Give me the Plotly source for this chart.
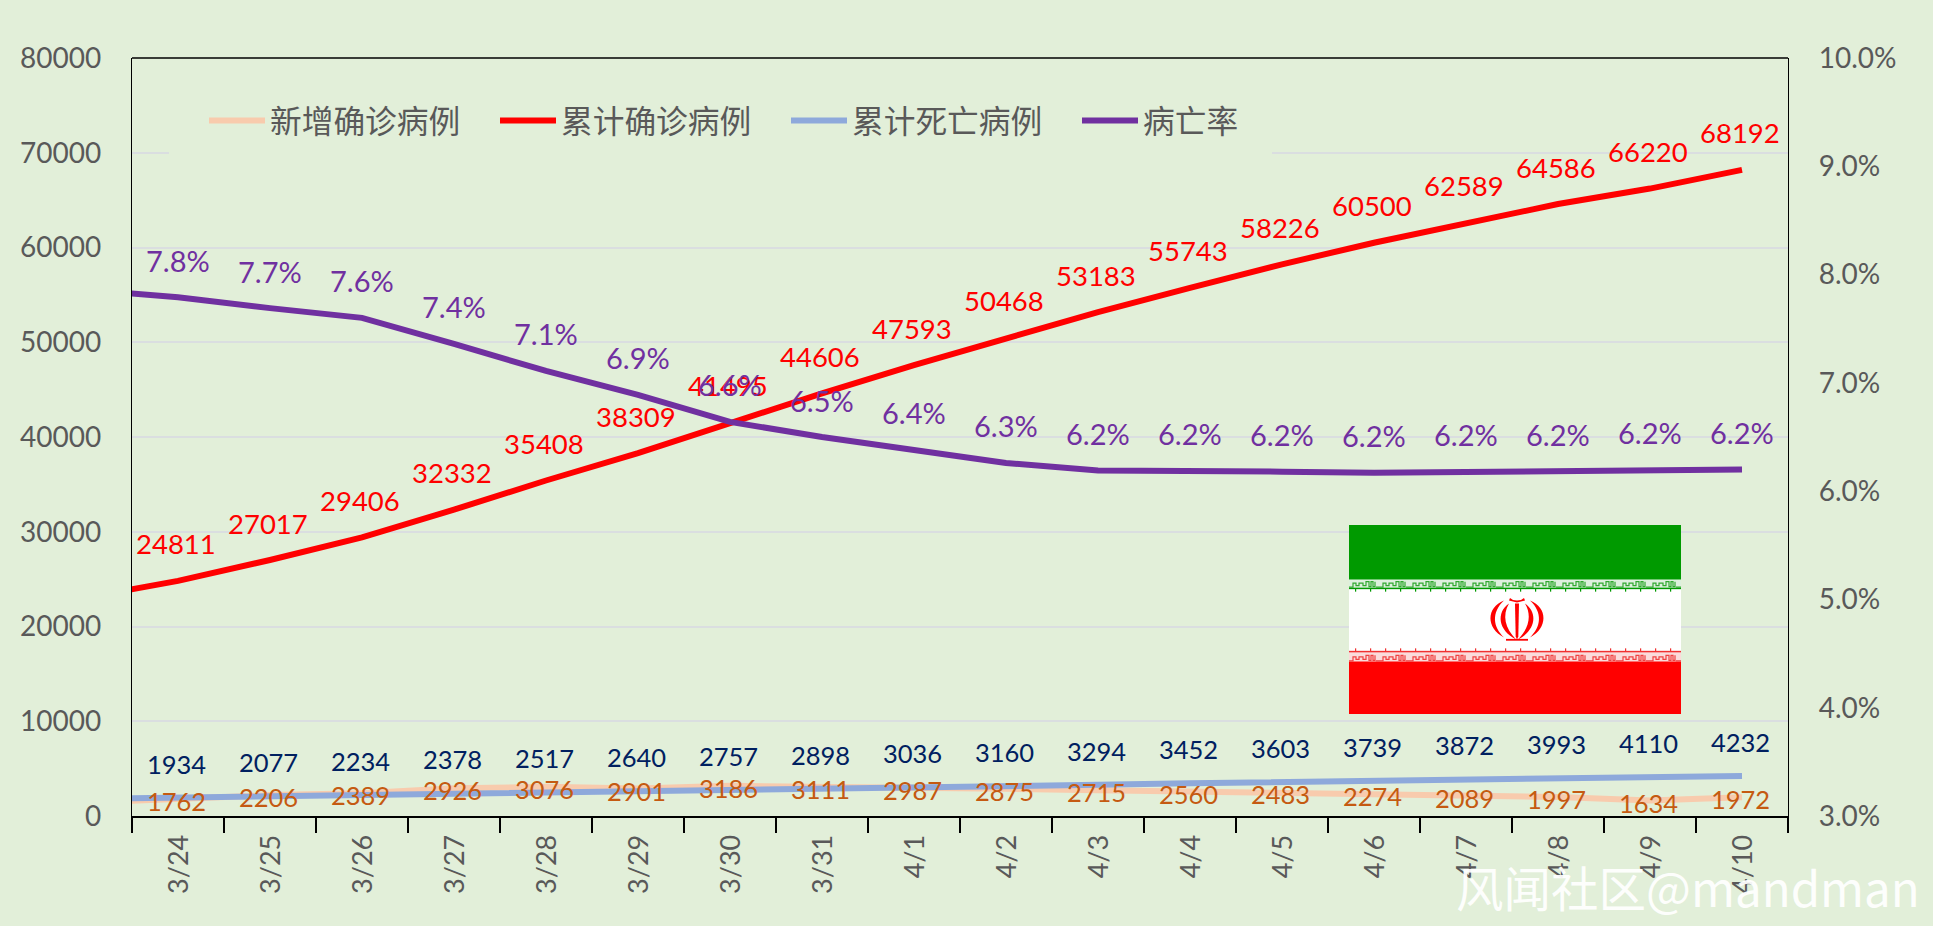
import base64
import plotly.graph_objects as go

# 3/23 sits just outside the visible range: the lines enter from the left axis
days = ["3/23", "3/24", "3/25", "3/26", "3/27", "3/28", "3/29", "3/30", "3/31", "4/1", "4/2",
        "4/3", "4/4", "4/5", "4/6", "4/7", "4/8", "4/9", "4/10"]
new_cases = [1411, 1762, 2206, 2389, 2926, 3076, 2901, 3186, 3111, 2987, 2875, 2715, 2560, 2483,
             2274, 2089, 1997, 1634, 1972]
total_cases = [23049, 24811, 27017, 29406, 32332, 35408, 38309, 41495, 44606, 47593, 50468, 53183,
               55743, 58226, 60500, 62589, 64586, 66220, 68192]
total_deaths = [1812, 1934, 2077, 2234, 2378, 2517, 2640, 2757, 2898, 3036, 3160, 3294, 3452, 3603,
                3739, 3872, 3993, 4110, 4232]
death_rate = [0.0786, 0.0779, 0.0769, 0.0760, 0.0736, 0.0711, 0.0689, 0.0664, 0.0650, 0.0638, 0.0626,
              0.0619, 0.0619, 0.0618, 0.0617, 0.0618, 0.0618, 0.0620, 0.0620]

BG = "#E2EFD9"
GREY = "#595959"
W, H = 1933, 926
L, R, T, B = 132, 1788, 58, 816


def frx(px):
    return (px - L) / (R - L)


def fry(px):
    return 1 - (px - T) / (B - T)


# flag of Iran drawn as a small SVG picture
tile = "M{0} 7.5H{1}V3.5H{2}V6H{3}V3.5H{4}V6H{5}V2H{6}V7H{7}V2H{8}V7H{9}V2"
def band(y0, col):
    s = ""
    for i in range(12):
        o = i * 30 - 3
        s += tile.format(o, o + 7, o + 10, o + 13, o + 17, o + 20, o + 23, o + 25, o + 27, o + 29)
    return f'<g transform="translate(0 {y0})"><path d="{s}" fill="none" stroke="{col}" stroke-width="1.2"/></g>'


ticks_g = "".join(f'<rect x="{i * 15 + 6}" y="64" width="1.2" height="3" fill="#009A00"/>' for i in range(23))
ticks_r = "".join(f'<rect x="{i * 15 + 6}" y="124" width="1.2" height="3" fill="#F03030"/>' for i in range(23))
emblem = (
    '<g fill="#FF0000">'
    '<path d="M166 79H170L169.3 112L168 115L166.700 112Z"/>'
    '<path d="M160 76L168 78L176 76L175 73.500L172 75.500L168 76L164 75.500L161 73.500Z"/>'
    '<path d="M160 79C147 88 149 106 167 115C156 104 153 91 160 79Z"/>'
    '<path d="M176 79C189 88 187 106 169 115C180 104 183 91 176 79Z"/>'
    '<path d="M155 76C137 83 137 104 155 113C144 103 142 88 155 76Z"/>'
    '<path d="M181 76C199 83 199 104 181 113C192 103 194 88 181 76Z"/>'
    '<rect x="157" y="114.500" width="22" height="1.800"/>'
    '</g>'
)
svg = (
    '<svg xmlns="http://www.w3.org/2000/svg" width="332" height="190" viewBox="0 0 332 190">'
    '<rect width="332" height="190" fill="#FFFFFF"/>'
    '<rect width="332" height="55" fill="#009A00"/>'
    '<rect y="137" width="332" height="53" fill="#FF0000"/>'
    '<rect y="55" width="332" height="9" fill="#DDF0DD"/>'
    '<rect y="127" width="332" height="10" fill="#FBDADA"/>'
    '<rect y="63" width="332" height="1.500" fill="#009A00"/>'
    '<rect y="126.500" width="332" height="1.500" fill="#F03030"/>'
    + band(55, "#2FA82F") + band(129, "#F04040") + ticks_g + ticks_r + emblem +
    '</svg>'
)
flag_uri = "data:image/svg+xml;base64," + base64.b64encode(svg.encode()).decode()

fig = go.Figure()
series = [
    ("新增确诊病例", new_cases, "#F8CBAD", "y"),
    ("累计确诊病例", total_cases, "#FF0000", "y"),
    ("累计死亡病例", total_deaths, "#8EA9DB", "y"),
    ("病亡率", death_rate, "#7030A0", "y2"),
]
for name, vals, col, ax in series:
    fig.add_trace(go.Scatter(x=days, y=vals, name=name, mode="lines", yaxis=ax, hoverinfo="skip",
                             line=dict(color=col, width=6, shape="linear")))

annotations = []
font_name = "Lato, 'Noto Sans CJK SC'"
def add_labels(vals, texts, col, shift, yref, size, xshift):
    for d, v, t in zip(days[1:], vals[1:], texts[1:]):
        annotations.append(dict(x=d, y=v, xref="x", yref=yref, text=t, showarrow=False, yshift=shift, xshift=xshift,
                                font=dict(color=col, size=size, family=font_name)))


add_labels(new_cases, [str(v) for v in new_cases], "#C55A11", -2, "y", 25.5, -2)
add_labels(total_cases, [str(v) for v in total_cases], "#FF0000", 37, "y", 27.5, -2)
add_labels(total_deaths, [str(v) for v in total_deaths], "#002060", 34, "y", 25.5, -2)
add_labels(death_rate, [f"{v * 100:.1f}%" for v in death_rate], "#7030A0", 37, "y2", 29, 0)

annotations.append(dict(x=frx(1922), y=fry(886), xref="paper", yref="paper", text="风闻社区@mandman",
                        showarrow=False, xanchor="right", yanchor="middle",
                        font=dict(color="rgba(255,255,255,0.95)", size=47.5, family="'Noto Sans CJK SC'")))

fig.update_layout(
    width=W, height=H, autosize=False,
    margin=dict(l=L, r=W - R, t=T, b=H - B, pad=0),
    paper_bgcolor=BG, plot_bgcolor=BG,
    font=dict(family=font_name, color=GREY),
    xaxis=dict(type="category", categoryorder="array", categoryarray=days, range=[0.5, 18.5],
               tickson="boundaries", ticks="outside", ticklen=15, tickwidth=1.6, tickcolor="#000000",
               showline=True, linecolor="#000000", linewidth=2, showgrid=False,
               tickangle=-90, tickfont=dict(size=27, color=GREY, family=font_name),
               ticklabelstandoff=6, ticklabelshift=1),
    yaxis=dict(range=[0, 80000], dtick=10000, tickformat="d", showgrid=True, gridcolor="#DADEE0", gridwidth=2,
               zeroline=False, showline=True, linecolor="#000000", linewidth=1.3, ticks="",
               tickfont=dict(size=28, color=GREY, family=font_name), ticklabelstandoff=24),
    yaxis2=dict(range=[0.03, 0.10], dtick=0.01, tickformat=".1%", overlaying="y", side="right",
                showgrid=False, zeroline=False, showline=True, linecolor="#000000", linewidth=1.3,
                ticks="", tickfont=dict(size=28, color=GREY, family=font_name), ticklabelstandoff=24),
    legend=dict(orientation="h", x=frx(204), y=fry(121), xanchor="left", yanchor="middle",
                bgcolor="rgba(0,0,0,0)", entrywidth=220, entrywidthmode="pixels", itemwidth=56,
                font=dict(size=31.7, color=GREY, family="'Noto Sans CJK SC'")),
    shapes=[
        dict(type="rect", xref="x", yref="y", x0=0.5 + 18 * frx(169), x1=0.5 + 18 * frx(1272),
             y0=80000 * fry(165), y1=80000 * fry(98), layer="between", fillcolor=BG, line_width=0),
        dict(type="line", xref="paper", yref="paper", x0=0, x1=1, y0=1, y1=1, layer="above",
             line=dict(color="#000000", width=1.3)),
    ],
    images=[dict(source=flag_uri, xref="paper", yref="paper", x=frx(1349), y=fry(525),
                 sizex=(1681 - 1349) / (R - L), sizey=(714 - 525) / (B - T), sizing="stretch",
                 xanchor="left", yanchor="top", layer="above")],
    annotations=annotations,
    showlegend=True,
)

fig.write_html("out.html", config={"displayModeBar": False},
               post_script="document.body.style.margin='0';document.body.style.overflow='hidden';")
